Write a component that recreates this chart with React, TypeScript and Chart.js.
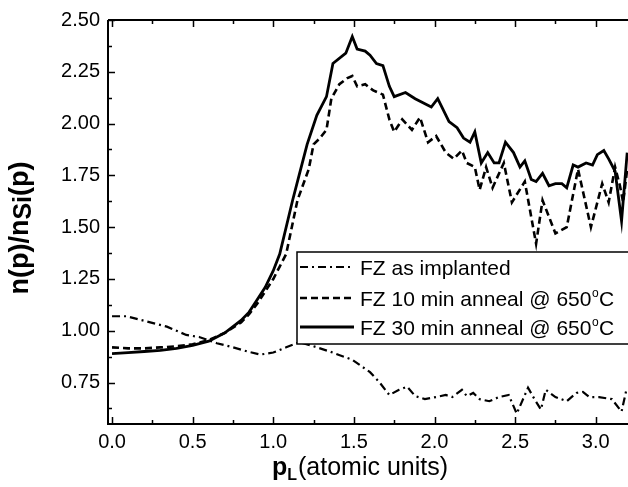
import React, { useEffect, useRef } from "react";
import { Chart, registerables } from "chart.js";

Chart.register(...registerables);

// ---- Data ----
const X_TICKS = [0, 0.5, 1.0, 1.5, 2.0, 2.5, 3.0];
const X_MINOR = [0.25, 0.75, 1.25, 1.75, 2.25, 2.75];
const Y_TICKS = [0.75, 1.0, 1.25, 1.5, 1.75, 2.0, 2.25, 2.5];
const Y_MINOR = [0.625, 0.875, 1.125, 1.375, 1.625, 1.875, 2.125, 2.375];

const LEGEND_LABELS = ["FZ as implanted", "FZ 10 min anneal @ 650", "FZ 30 min anneal @ 650"];

// FZ as implanted (dash-dot)
const ASIMP_X = [0, 0.09, 0.19, 0.34, 0.46, 0.54, 0.65, 0.75, 0.84, 0.92, 1.0, 1.08, 1.16, 1.23, 1.35, 1.49, 1.6, 1.66, 1.72, 1.78, 1.83, 1.88, 1.94, 2.01, 2.07, 2.11, 2.17, 2.2, 2.24, 2.28, 2.34, 2.4, 2.46, 2.51, 2.58, 2.62, 2.66, 2.69, 2.75, 2.82, 2.88, 2.92, 2.96, 3.02, 3.1, 3.16, 3.19];
const ASIMP_Y = [1.07, 1.07, 1.05, 1.02, 0.98, 0.97, 0.94, 0.92, 0.9, 0.885, 0.895, 0.92, 0.945, 0.93, 0.9, 0.86, 0.8, 0.75, 0.69, 0.715, 0.73, 0.685, 0.67, 0.68, 0.69, 0.68, 0.715, 0.685, 0.7, 0.67, 0.66, 0.68, 0.69, 0.6, 0.725, 0.67, 0.62, 0.715, 0.68, 0.66, 0.7, 0.705, 0.68, 0.68, 0.67, 0.61, 0.715];

// FZ 10 min anneal (dashed)
const A10_X = [0, 0.1, 0.2, 0.3, 0.4, 0.5, 0.6, 0.7, 0.8, 0.85, 0.9, 0.95, 1.0, 1.04, 1.08, 1.15, 1.22, 1.25, 1.29, 1.33, 1.36, 1.41, 1.46, 1.49, 1.52, 1.57, 1.62, 1.68, 1.72, 1.75, 1.8, 1.86, 1.91, 1.96, 2.01, 2.07, 2.12, 2.17, 2.2, 2.25, 2.28, 2.32, 2.36, 2.43, 2.48, 2.56, 2.63, 2.67, 2.75, 2.82, 2.89, 2.97, 3.04, 3.08, 3.12, 3.15, 3.17, 3.195];
const A10_Y = [0.92, 0.915, 0.915, 0.92, 0.925, 0.935, 0.955, 0.99, 1.04, 1.08, 1.13, 1.19, 1.25, 1.31, 1.37, 1.63, 1.78, 1.9, 1.93, 1.97, 2.12, 2.19, 2.22, 2.23, 2.18, 2.19, 2.16, 2.14, 2.02, 1.96, 2.02, 1.97, 2.03, 1.91, 1.94, 1.86, 1.83, 1.87, 1.81, 1.79, 1.68, 1.79, 1.69, 1.81, 1.62, 1.72, 1.42, 1.63, 1.47, 1.5, 1.78, 1.5, 1.71, 1.62, 1.79, 1.7, 1.62, 1.78];

// FZ 30 min anneal (solid)
const A30_X = [0, 0.1, 0.2, 0.3, 0.4, 0.5, 0.6, 0.65, 0.7, 0.75, 0.8, 0.85, 0.9, 0.95, 1.0, 1.04, 1.12, 1.16, 1.21, 1.27, 1.33, 1.37, 1.45, 1.49, 1.52, 1.57, 1.6, 1.64, 1.68, 1.72, 1.75, 1.82, 1.88, 1.98, 2.02, 2.09, 2.14, 2.18, 2.22, 2.25, 2.29, 2.33, 2.37, 2.4, 2.44, 2.49, 2.53, 2.56, 2.6, 2.63, 2.67, 2.71, 2.75, 2.79, 2.82, 2.86, 2.89, 2.94, 2.98, 3.01, 3.05, 3.08, 3.12, 3.16, 3.195];
const A30_Y = [0.89, 0.895, 0.9, 0.905, 0.915, 0.93, 0.95, 0.97, 0.99, 1.02, 1.05, 1.09, 1.15, 1.21, 1.29, 1.37, 1.63, 1.75, 1.9, 2.04, 2.13, 2.29, 2.34, 2.42, 2.36, 2.35, 2.33, 2.29, 2.28, 2.18, 2.13, 2.15, 2.12, 2.08, 2.12, 2.01, 1.98, 1.93, 1.91, 1.96, 1.81, 1.86, 1.81, 1.81, 1.91, 1.86, 1.79, 1.82, 1.73, 1.72, 1.76, 1.7, 1.71, 1.71, 1.69, 1.8, 1.79, 1.81, 1.8, 1.85, 1.87, 1.83, 1.77, 1.53, 1.86];

const X_MIN = -0.025;
const X_MAX = 3.2;
const Y_MIN = 0.55;
const Y_MAX = 2.5;

const FONT = "'Liberation Sans', Arial, Helvetica, sans-serif";
const DASH_DOT = [8, 4, 2, 4];
const DASHED = [7, 4];

const pts = (xs: number[], ys: number[]) => xs.map((x, i) => ({ x, y: ys[i] }));

const decorPlugin = {
  id: "decor",
  afterDatasetsDraw(chart: any) {
    const { ctx } = chart;
    // Legend box
    ctx.save();
    const bx = 297, by = 252, bw = 360, bh = 92;
    ctx.fillStyle = "#fff";
    ctx.fillRect(bx, by, bw, bh);
    ctx.strokeStyle = "#000";
    ctx.lineWidth = 1.5;
    ctx.strokeRect(bx, by, bw, bh);
    const rows = [267, 298, 327];
    const dashes = [DASH_DOT, DASHED, []];
    const widths = [2.2, 2.5, 2.8];
    for (let i = 0; i < 3; i++) {
      ctx.beginPath();
      ctx.setLineDash(dashes[i]);
      ctx.lineWidth = widths[i];
      ctx.moveTo(300, rows[i]);
      ctx.lineTo(354, rows[i]);
      ctx.stroke();
    }
    ctx.setLineDash([]);
    ctx.fillStyle = "#000";
    ctx.textBaseline = "alphabetic";
    ctx.textAlign = "left";
    for (let i = 0; i < 3; i++) {
      const base = rows[i] + 7.5;
      ctx.font = `21px ${FONT}`;
      ctx.fillText(LEGEND_LABELS[i], 360, base);
      if (i > 0) {
        let x = 360 + ctx.measureText(LEGEND_LABELS[i]).width;
        ctx.font = `12px ${FONT}`;
        ctx.fillText("o", x + 0.5, base - 9);
        x += ctx.measureText("o").width + 1;
        ctx.font = `21px ${FONT}`;
        ctx.fillText("C", x, base);
      }
    }
    ctx.restore();
  },
  afterDraw(chart: any) {
    const { ctx } = chart;
    const { left, right, top, bottom } = chart.chartArea;
    const xs = chart.scales.x;
    const ys = chart.scales.y;
    ctx.save();
    ctx.strokeStyle = "#000";
    ctx.lineWidth = 2;
    ctx.beginPath();
    ctx.moveTo(left, top);
    ctx.lineTo(left, bottom);
    ctx.lineTo(right, bottom);
    ctx.moveTo(left, top);
    ctx.lineTo(right, top);
    ctx.stroke();
    ctx.lineWidth = 1.5;
    ctx.beginPath();
    const xt = (v: number, len: number) => {
      const p = Math.round(xs.getPixelForValue(v)) + 0.5;
      ctx.moveTo(p, bottom);
      ctx.lineTo(p, bottom - len);
      ctx.moveTo(p, top);
      ctx.lineTo(p, top + len);
    };
    const yt = (v: number, len: number) => {
      const p = Math.round(ys.getPixelForValue(v)) + 0.5;
      ctx.moveTo(left, p);
      ctx.lineTo(left + len, p);
    };
    X_TICKS.forEach((v) => xt(v, 7));
    X_MINOR.forEach((v) => xt(v, 4));
    Y_TICKS.forEach((v) => yt(v, 7));
    Y_MINOR.forEach((v) => yt(v, 4));
    ctx.stroke();

    // Axis titles
    ctx.fillStyle = "#000";
    ctx.textBaseline = "alphabetic";
    ctx.textAlign = "left";
    // x title
    ctx.font = `bold 25px ${FONT}`;
    ctx.fillText("p", 272, 475);
    let xx = 272 + ctx.measureText("p").width;
    ctx.font = `bold 16px ${FONT}`;
    ctx.fillText("L", xx, 480);
    xx += ctx.measureText("L").width + 1;
    ctx.font = `25px ${FONT}`;
    ctx.fillText("(atomic units)", xx, 475);

    // y title (rotated)
    ctx.save();
    ctx.translate(28, 228);
    ctx.rotate(-Math.PI / 2);
    const p1 = "n(p)/n", p2 = "Si", p3 = "(p)";
    ctx.font = `bold 27px ${FONT}`;
    const w1 = ctx.measureText(p1).width;
    const w3 = ctx.measureText(p3).width;
    ctx.font = `bold 25px ${FONT}`;
    const w2 = ctx.measureText(p2).width;
    const total = w1 + w2 + w3;
    let sx = -total / 2;
    ctx.font = `bold 27px ${FONT}`;
    ctx.fillText(p1, sx, 0);
    sx += w1;
    ctx.font = `bold 25px ${FONT}`;
    ctx.fillText(p2, sx, 3);
    sx += w2;
    ctx.font = `bold 27px ${FONT}`;
    ctx.fillText(p3, sx, 0);
    ctx.restore();

    ctx.restore();
  },
};

export default function App() {
  const ref = useRef<HTMLCanvasElement | null>(null);
  useEffect(() => {
    if (!ref.current) return;
    const chart = new Chart(ref.current, {
      type: "line",
      data: {
        datasets: [
          {
            label: "FZ as implanted",
            data: pts(ASIMP_X, ASIMP_Y),
            borderColor: "#000",
            borderWidth: 2.2,
            borderDash: DASH_DOT,
            pointRadius: 0,
            tension: 0,
            fill: false,
          },
          {
            label: "FZ 10 min anneal",
            data: pts(A10_X, A10_Y),
            borderColor: "#000",
            borderWidth: 2.6,
            borderDash: DASHED,
            pointRadius: 0,
            tension: 0,
            fill: false,
          },
          {
            label: "FZ 30 min anneal",
            data: pts(A30_X, A30_Y),
            borderColor: "#000",
            borderWidth: 2.8,
            pointRadius: 0,
            tension: 0,
            fill: false,
          },
        ],
      },
      options: {
        animation: false,
        responsive: false,
        events: [],
        layout: { padding: { left: 0, top: 19, right: 0, bottom: 0 } },
        plugins: {
          legend: { display: false },
          tooltip: { enabled: false },
          title: { display: false },
        },
        scales: {
          x: {
            type: "linear",
            min: X_MIN,
            max: X_MAX,
            grid: { display: false, drawTicks: false },
            border: { display: false },
            afterBuildTicks: (s: any) => {
              s.ticks = X_TICKS.map((v) => ({ value: v }));
            },
            afterFit: (s: any) => {
              s.height = 63;
            },
            ticks: {
              autoSkip: false,
              maxRotation: 0,
              padding: 6,
              color: "#000",
              font: { family: FONT, size: 20 },
              callback: (v: any) => Number(v).toFixed(1),
            },
          },
          y: {
            type: "linear",
            min: Y_MIN,
            max: Y_MAX,
            grid: { display: false, drawTicks: false },
            border: { display: false },
            afterBuildTicks: (s: any) => {
              s.ticks = Y_TICKS.map((v) => ({ value: v }));
            },
            afterFit: (s: any) => {
              s.width = 108;
            },
            ticks: {
              autoSkip: false,
              padding: 8,
              color: "#000",
              font: { family: FONT, size: 20 },
              callback: (v: any) => Number(v).toFixed(2),
            },
          },
        },
      },
      plugins: [decorPlugin],
    });
    return () => chart.destroy();
  }, []);
  return (
    <div style={{ position: "absolute", left: 0, top: 0, width: 628, height: 487, background: "#fff" }}>
      <canvas ref={ref} width={628} height={487} style={{ display: "block" }} />
    </div>
  );
}
